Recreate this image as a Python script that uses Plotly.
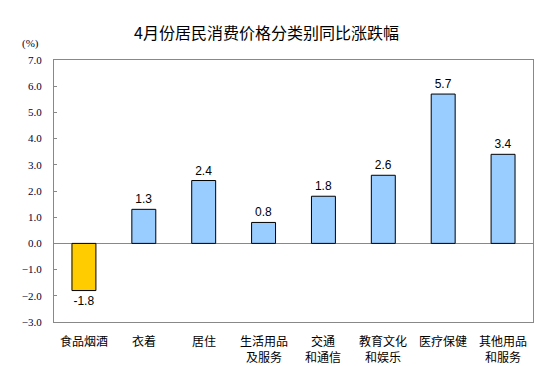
import plotly.graph_objects as go

categories = ["食品烟酒", "衣着", "居住", "生活用品及服务", "交通和通信", "教育文化和娱乐", "医疗保健", "其他用品和服务"]
tick_labels = ["食品烟酒", "衣着", "居住", "生活用品<br>及服务", "交通<br>和通信", "教育文化<br>和娱乐", "医疗保健", "其他用品<br>和服务"]
values = [-1.8, 1.3, 2.4, 0.8, 1.8, 2.6, 5.7, 3.4]
labels = ["-1.8", "1.3", "2.4", "0.8", "1.8", "2.6", "5.7", "3.4"]
colors = ["#FFCC00" if v < 0 else "#99CCFF" for v in values]
ytick_vals = [7, 6, 5, 4, 3, 2, 1, 0, -1, -2, -3]

W, H = 539, 366
L, R, T, B = 54, 6, 60, 44
ph = H - T - B
pw = W - L - R

fig = go.Figure()
fig.add_trace(go.Bar(
    x=categories, y=values, width=0.4,
    marker=dict(color=colors, line=dict(color="#000000", width=1)),
    text=labels, textposition="outside", cliponaxis=False,
    textfont=dict(family="Liberation Sans, Arial", size=12, color="#000000"),
))

annotations = [dict(text="(%)", x=(30 - L) / pw, y=(H - B - 44) / ph, xref="paper", yref="paper",
                    showarrow=False, xanchor="center", yanchor="middle",
                    font=dict(family="Liberation Serif", size=11, color="#000033"))]
for c, t in zip(categories, tick_labels):
    ymid = 348 if "<br>" in t else 340.5
    annotations.append(dict(text=t, x=c, xref="x", y=(H - B - ymid) / ph, yref="paper",
                            showarrow=False, xanchor="center", yanchor="middle",
                            font=dict(family="Noto Sans CJK SC", size=12, color="#000000")))

fig.update_layout(
    width=W, height=H,
    margin=dict(l=L, r=R, t=T, b=B),
    paper_bgcolor="white", plot_bgcolor="white",
    showlegend=False,
    title=dict(text="4月份居民消费价格分类别同比涨跌幅", x=266.5 / W, xref="container", xanchor="center",
               y=1 - 33 / H, yanchor="middle",
               font=dict(family="Noto Sans CJK SC", size=16, color="#000000")),
    annotations=annotations,
    xaxis=dict(showline=True, linecolor="#888888", mirror=True, ticks="", showgrid=False,
               showticklabels=False, automargin=False),
    yaxis=dict(range=[-3, 7], tickvals=ytick_vals, tickformat=".1f", showgrid=False,
               showline=True, linecolor="#888888", mirror=True, ticks="inside", ticklen=3,
               tickcolor="#888888", zeroline=True, zerolinecolor="#888888", zerolinewidth=1,
               ticklabelstandoff=9, automargin=False,
               tickfont=dict(family="Liberation Serif", size=11, color="#000033")),
)
fig.write_html("out.html", config={"displayModeBar": False},
               post_script="document.body.style.margin='0';")
